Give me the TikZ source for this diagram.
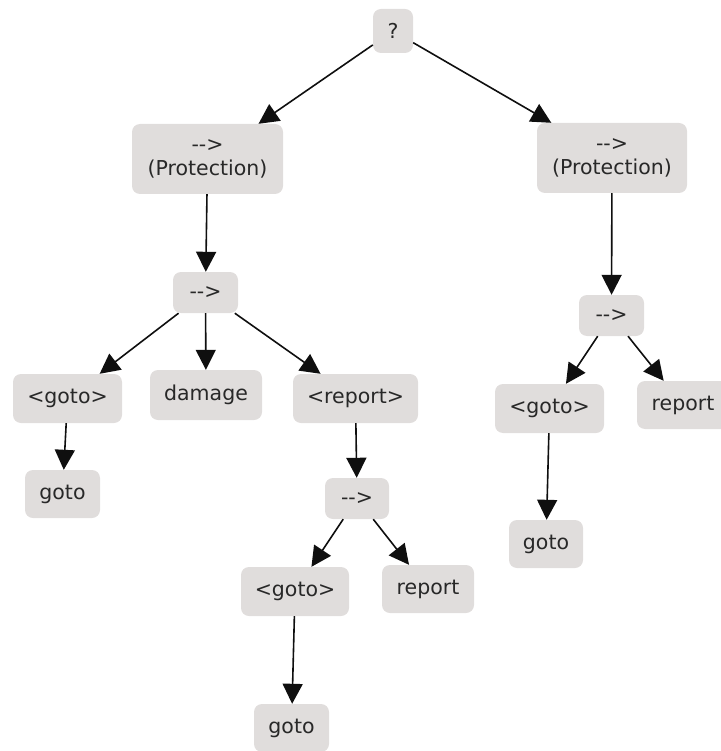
\documentclass[tikz,border=0pt]{standalone}
\usepackage{fontspec}
\setmainfont{DejaVu Sans}
\usetikzlibrary{arrows.meta}
\definecolor{boxfill}{RGB}{224,221,220}
\definecolor{ink}{RGB}{40,40,40}
\definecolor{edgeink}{RGB}{15,15,15}
\newcommand{\seqlabel}{-\kern0pt-\kern0pt>}
\tikzset{
  treebox/.style={rounded corners=8pt, fill=boxfill, inner sep=0pt, align=center,
    text=ink, font=\fontsize{20.5}{24}\selectfont},
  link/.style={draw=edgeink, line width=1.6pt, -{Triangle[length=20pt,width=20pt]}},
}
\begin{document}
\begin{tikzpicture}[x=1pt,y=-1pt]
\useasboundingbox (0,0) rectangle (720,751);
% root
\node[treebox, minimum width=40pt, minimum height=44pt] (q) at (393,31) {?};
% left branch
\node[treebox, minimum width=151pt, minimum height=70pt] (pl) at (207.5,159) {\seqlabel\\(Protection)};
\node[treebox, minimum width=65pt, minimum height=41pt] (sl) at (205.5,292.5) {\seqlabel};
\node[treebox, minimum width=109pt, minimum height=49pt] (ga) at (67.5,398.5) {<goto>};
\node[treebox, minimum width=112pt, minimum height=50pt] (dm) at (206,395) {damage};
\node[treebox, minimum width=125pt, minimum height=49pt] (ra) at (355.5,398.5) {<report>};
\node[treebox, minimum width=75pt, minimum height=48pt] (gb) at (62.5,494) {goto};
\node[treebox, minimum width=64pt, minimum height=41pt] (sm) at (357,498.5) {\seqlabel};
\node[treebox, minimum width=108pt, minimum height=49pt] (gc) at (295,591.5) {<goto>};
\node[treebox, minimum width=92pt, minimum height=48pt] (rb) at (428,589) {report};
\node[treebox, minimum width=75pt, minimum height=48pt] (gd) at (291.5,728) {goto};
% right branch
\node[treebox, minimum width=150pt, minimum height=70pt] (pr) at (612,158) {\seqlabel\\(Protection)};
\node[treebox, minimum width=65pt, minimum height=41pt] (sr) at (611.5,315.5) {\seqlabel};
\node[treebox, minimum width=109pt, minimum height=49pt] (ge) at (549.5,408.5) {<goto>};
\node[treebox, minimum width=92pt, minimum height=48pt] (rc) at (683,405) {report};
\node[treebox, minimum width=74pt, minimum height=48pt] (gf) at (546,544) {goto};
% connectors
\draw[link] (q) -- (pl);
\draw[link] (q) -- (pr);
\draw[link] (pl) -- (sl);
\draw[link] (sl) -- (ga);
\draw[link] (sl) -- (dm);
\draw[link] (sl) -- (ra);
\draw[link] (ga) -- (gb);
\draw[link] (ra) -- (sm);
\draw[link] (sm) -- (gc);
\draw[link] (sm) -- (rb);
\draw[link] (gc) -- (gd);
\draw[link] (pr) -- (sr);
\draw[link] (sr) -- (ge);
\draw[link] (sr) -- (rc);
\draw[link] (ge) -- (gf);
\end{tikzpicture}
\end{document}
